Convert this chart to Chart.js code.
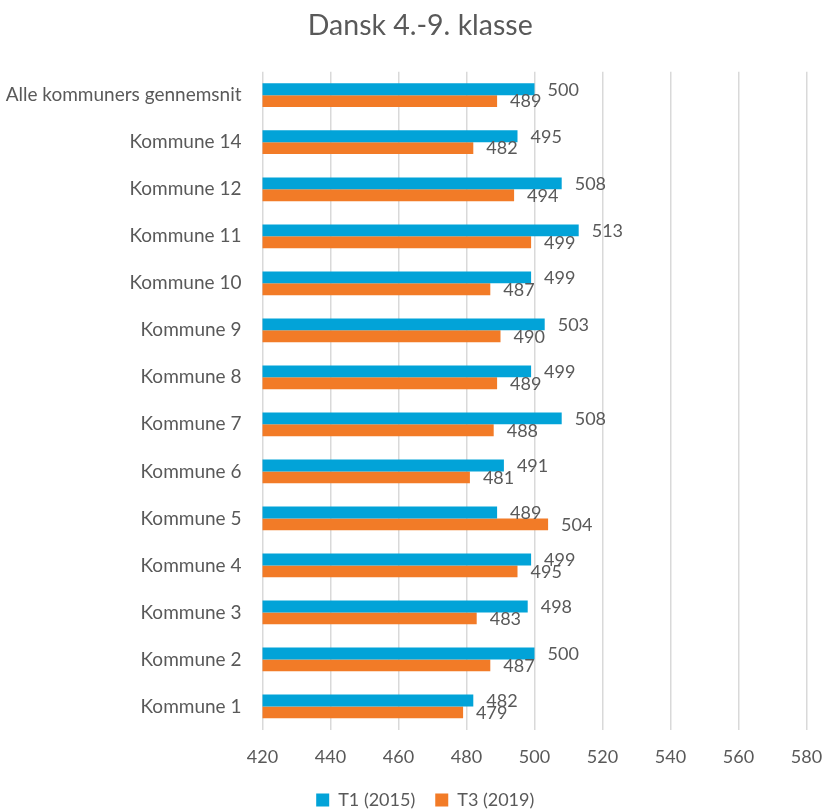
<!DOCTYPE html>
<html>
<head>
<meta charset="utf-8">
<script src="https://cdn.jsdelivr.net/npm/chart.js@4/dist/chart.umd.min.js"></script>
<style>
  html, body { margin: 0; padding: 0; background: #fff; }
  #wrap { width: 824px; height: 810px; }
</style>
</head>
<body>
<div id="wrap"><canvas id="c" width="824" height="810"></canvas></div>
<script>
const categories = [
  'Alle kommuners gennemsnit', 'Kommune 14', 'Kommune 12', 'Kommune 11', 'Kommune 10',
  'Kommune 9', 'Kommune 8', 'Kommune 7', 'Kommune 6', 'Kommune 5',
  'Kommune 4', 'Kommune 3', 'Kommune 2', 'Kommune 1'
];
const t1Values = [500, 495, 508, 513, 499, 503, 499, 508, 491, 489, 499, 498, 500, 482];
const t3Values = [489, 482, 494, 499, 487, 490, 489, 488, 481, 504, 495, 483, 487, 479];
const seriesNames = ['T1 (2015)', 'T3 (2019)'];
const titleText = 'Dansk 4.-9. klasse';
const xTicks = { min: 420, max: 580, step: 20 };

const FONT = "Lato, 'Open Sans', sans-serif";
const TEXT = '#595959';

const valueLabels = {
  id: 'valueLabels',
  afterDatasetsDraw(chart) {
    const ctx = chart.ctx;
    ctx.save();
    ctx.font = "18px " + FONT;
    ctx.fillStyle = TEXT;
    ctx.textAlign = 'left';
    ctx.textBaseline = 'middle';
    chart.data.datasets.forEach((ds, i) => {
      const meta = chart.getDatasetMeta(i);
      meta.data.forEach((bar, j) => {
        ctx.fillText(String(ds.data[j]), bar.x + 13, bar.y + 0.5);
      });
    });
    ctx.restore();
  }
};

// Centre the title and legend the way the original chart does (slightly right of canvas centre)
const shiftBlocks = {
  id: 'shiftBlocks',
  afterLayout(chart) {
    if (chart.titleBlock) { chart.titleBlock.left += 15; chart.titleBlock.right += 15; }
    if (chart.legend) { chart.legend.left += 20; chart.legend.right += 20; }
  }
};

new Chart(document.getElementById('c'), {
  type: 'bar',
  data: {
    labels: categories,
    datasets: [
      { label: seriesNames[0], data: t1Values, backgroundColor: '#02A3D8', borderWidth: 0 },
      { label: seriesNames[1], data: t3Values, backgroundColor: '#F27B27', borderWidth: 0 }
    ]
  },
  options: {
    indexAxis: 'y',
    responsive: false,
    animation: false,
    devicePixelRatio: 1,
    categoryPercentage: 0.505,
    barPercentage: 1,
    layout: { padding: { left: 4, right: 17.5, top: 4, bottom: -9 } },
    plugins: {
      title: {
        display: true,
        text: titleText,
        color: TEXT,
        font: { family: FONT, size: 28.5, weight: 'normal' },
        padding: { top: 5, bottom: 28.5 }
      },
      legend: {
        position: 'bottom',
        labels: {
          color: TEXT,
          font: { family: FONT, size: 18 },
          boxWidth: 13,
          boxHeight: 13,
          padding: 20
        }
      },
      tooltip: { enabled: false }
    },
    scales: {
      x: {
        min: xTicks.min,
        max: xTicks.max,
        ticks: { stepSize: xTicks.step, color: TEXT, font: { family: FONT, size: 18 }, padding: 16 },
        grid: { color: '#D9D9D9', lineWidth: 1.5, drawTicks: false },
        border: { display: false },
        afterFit(scale) {
          scale.paddingLeft = 0;
          scale.paddingRight = 0;
          scale.height = 41;
        }
      },
      y: {
        ticks: { color: TEXT, font: { family: FONT, size: 19 }, padding: 21 },
        grid: { display: false, drawTicks: false },
        border: { display: false },
        afterFit(scale) {
          scale.width = 258.5;
          scale.paddingTop = 0;
          scale.paddingBottom = 0;
        }
      }
    }
  },
  plugins: [valueLabels, shiftBlocks]
});
</script>
</body>
</html>
